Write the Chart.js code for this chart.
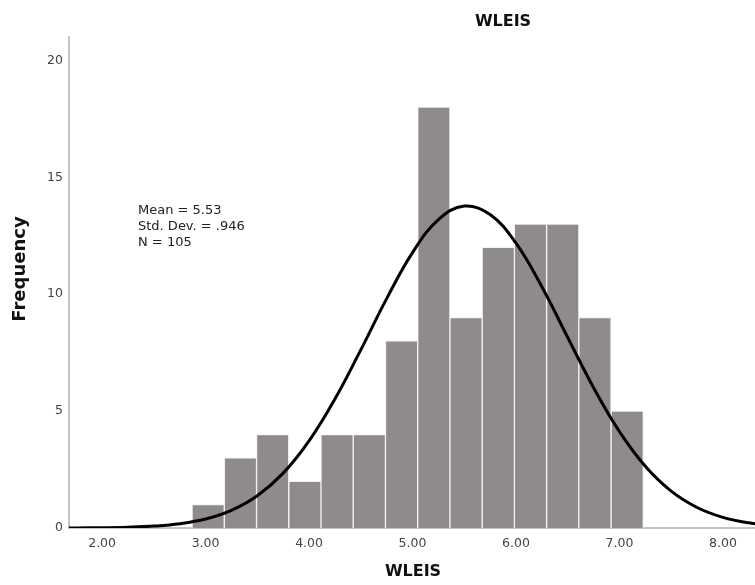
<!DOCTYPE html>
<html>
<head>
<meta charset="utf-8">
<script src="https://cdn.jsdelivr.net/npm/chart.js@4/dist/chart.umd.min.js"></script>
<style>
  html, body { margin: 0; padding: 0; background: #ffffff; }
  #wrap { width: 755px; height: 585px; position: relative; }
</style>
</head>
<body>
<div id="wrap"><canvas id="c" width="755" height="585"></canvas></div>
<script>
// ---- Data ----
const chartTitle = "WLEIS";
const xAxisTitle = "WLEIS";
const yAxisTitle = "Frequency";
const statsLines = ["Mean = 5.53", "Std. Dev. = .946", "N = 105"];

// histogram bin centers (WLEIS score) and frequencies
const binCenters = [3.025, 3.337, 3.648, 3.960, 4.271, 4.583, 4.894, 5.206, 5.517, 5.829, 6.140, 6.452, 6.763, 7.075];
const binCounts  = [1, 3, 4, 2, 4, 4, 8, 18, 9, 12, 13, 13, 9, 5];

// fitted normal curve
const curveX = [1.50, 1.75, 2.00, 2.25, 2.50, 2.75, 3.00, 3.25, 3.50, 3.75, 4.00, 4.25, 4.50, 4.75, 5.00, 5.25, 5.50, 5.75, 6.00, 6.25, 6.50, 6.75, 7.00, 7.25, 7.50, 7.75, 8.00, 8.25, 8.50];
const curveY = [0.002, 0.005, 0.013, 0.034, 0.082, 0.184, 0.385, 0.756, 1.378, 2.347, 3.727, 5.518, 7.617, 9.81, 11.78, 13.19, 13.77, 13.41, 12.18, 10.32, 8.15, 6.00, 4.12, 2.64, 1.576, 0.878, 0.456, 0.221, 0.100];

// axis ticks
const xTicks = [2, 3, 4, 5, 6, 7, 8];
const yTicks = [0, 5, 10, 15, 20];
const xRange = [1.68, 8.31];
const yRange = [0, 21];

// ---- Build chart ----
const barData = binCenters.map((x, i) => ({ x: x, y: binCounts[i] }));
const curveData = curveX.map((x, i) => ({ x: x, y: curveY[i] }));

const textPlugin = {
  id: 'texts',
  afterDraw(chart) {
    const ctx = chart.ctx;
    ctx.save();
    ctx.fillStyle = '#111111';
    ctx.textAlign = 'center';
    ctx.textBaseline = 'middle';
    ctx.font = 'bold 16px "DejaVu Sans", sans-serif';
    ctx.fillText(chartTitle, 503, 22);
    ctx.fillText(xAxisTitle, 413, 572);
    ctx.save();
    ctx.translate(20, 269);
    ctx.rotate(-Math.PI / 2);
    ctx.font = 'bold 18px "DejaVu Sans", sans-serif';
    ctx.fillText(yAxisTitle, 0, 0);
    ctx.restore();
    ctx.textAlign = 'left';
    ctx.font = '13px "DejaVu Sans", sans-serif';
    ctx.fillStyle = '#222222';
    statsLines.forEach((s, i) => ctx.fillText(s, 138, 211 + i * 16));
    ctx.restore();
  }
};

new Chart(document.getElementById('c'), {
  type: 'bar',
  data: {
    datasets: [
      {
        type: 'line',
        data: curveData,
        borderColor: '#000000',
        borderWidth: 3,
        pointRadius: 0,
        tension: 0.4,
        fill: false,
        order: 0
      },
      {
        type: 'bar',
        data: barData,
        backgroundColor: '#8f8b8a',
        borderColor: '#f2f1f1',
        borderWidth: 1,
        barPercentage: 1,
        categoryPercentage: 1,
        order: 1
      }
    ]
  },
  options: {
    responsive: false,
    animation: false,
    devicePixelRatio: 1,
    layout: { padding: { top: 37, right: 0, left: 0, bottom: 0 } },
    plugins: { legend: { display: false }, tooltip: { enabled: false }, title: { display: false } },
    scales: {
      x: {
        type: 'linear',
        offset: false,
        min: xRange[0],
        max: xRange[1],
        grid: { display: false, drawTicks: false },
        border: { display: true, color: '#c4c4c4', width: 2 },
        afterBuildTicks: s => { s.ticks = xTicks.map(v => ({ value: v })); },
        afterFit: s => { s.height = 57; },
        ticks: {
          padding: 8,
          color: '#444444',
          font: { family: '"DejaVu Sans", sans-serif', size: 12.5 },
          maxRotation: 0,
          autoSkip: false,
          callback: v => Number(v).toFixed(2)
        }
      },
      y: {
        min: yRange[0],
        max: yRange[1],
        grid: { display: false, drawTicks: false },
        border: { display: true, color: '#c4c4c4', width: 2 },
        afterBuildTicks: s => { s.ticks = yTicks.map(v => ({ value: v })); },
        afterFit: s => { s.width = 69; },
        ticks: {
          padding: 6,
          color: '#444444',
          font: { family: '"DejaVu Sans", sans-serif', size: 12.5 },
          autoSkip: false
        }
      }
    }
  },
  plugins: [textPlugin]
});
</script>
</body>
</html>
